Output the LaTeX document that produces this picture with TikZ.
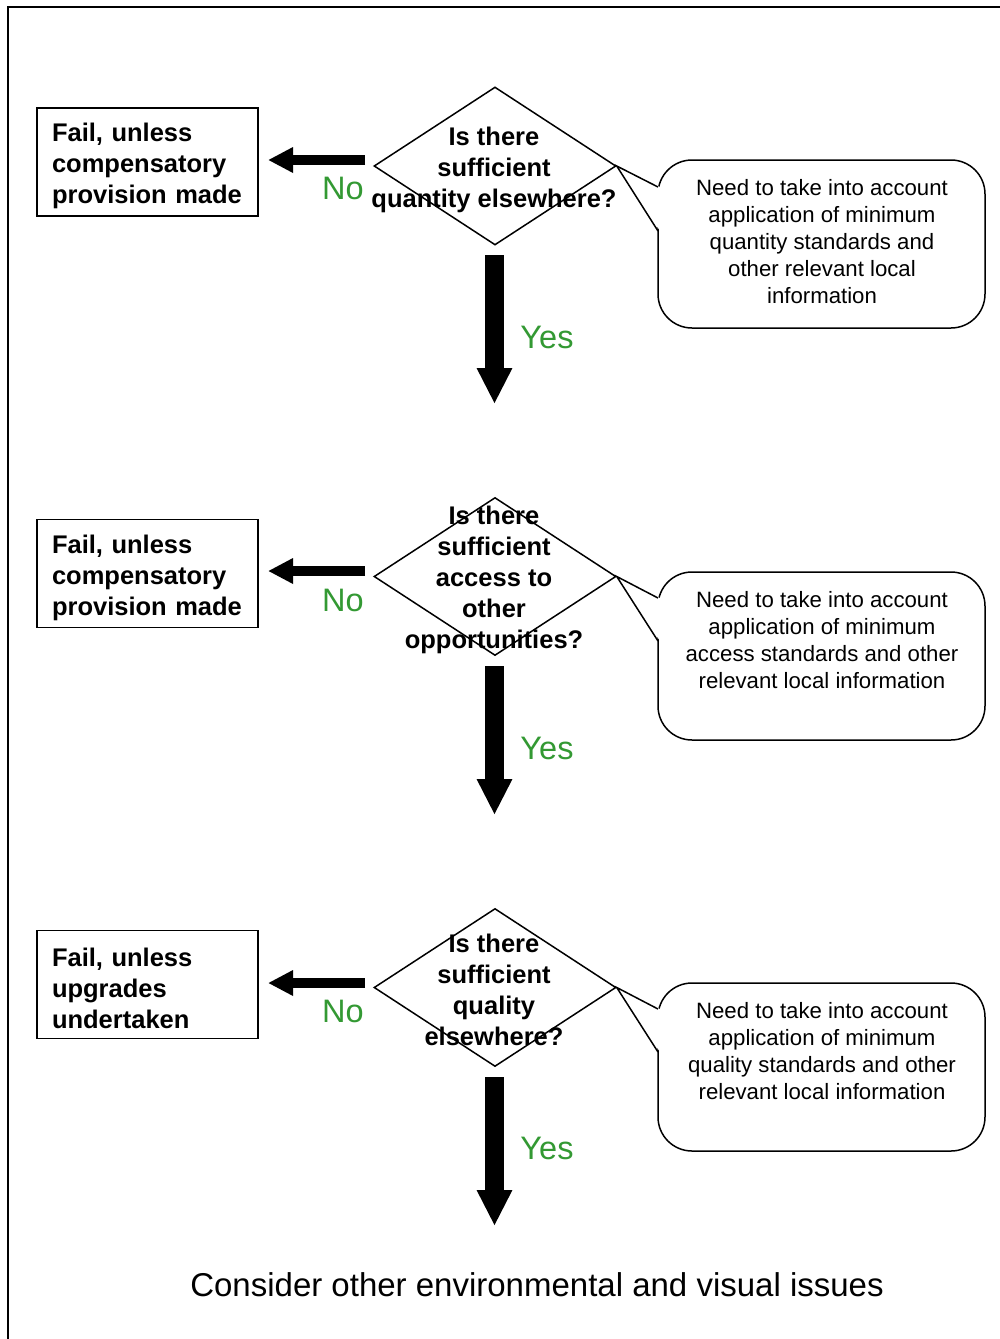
\documentclass[tikz,border=0pt]{standalone}
\usepackage{fontspec}
\setmainfont{Liberation Sans}
\usetikzlibrary{shapes.geometric,arrows.meta,calc}
\definecolor{yesgreen}{RGB}{51,153,51}
\begin{document}
\begin{tikzpicture}[x=1pt,y=-1pt,
  failbox/.style={draw,line width=1.5pt,rectangle,minimum width=221pt,minimum height=108pt,inner sep=0pt},
  failtext/.style={inner sep=0pt,text width=191pt,align=left,font=\bfseries\fontsize{25.5}{31}\selectfont},
  decide/.style={draw,line width=1.5pt,diamond,minimum width=242pt,minimum height=158pt,inner sep=0pt},
  qtext/.style={align=center,font=\bfseries\fontsize{25.5}{31}\selectfont,inner sep=0pt},
  callbody/.style={draw,line width=1.5pt,rectangle,rounded corners=34pt,minimum width=327pt,minimum height=168pt},
  calltext/.style={align=center,anchor=north,inner sep=0pt,font=\fontsize{22.2}{27}\selectfont},
  noarrow/.style={line width=10pt,-{Triangle[width=24pt,length=25pt]}},
  yesarrow/.style={line width=19pt,-{Triangle[width=33pt,length=36pt]}},
  lbl/.style={text=yesgreen,font=\fontsize{32.5}{36}\selectfont,inner sep=0pt},
]
\useasboundingbox (0,0) rectangle (1000,1339);
\fill[white] (0,0) rectangle (1000,1339);
\draw[line width=2pt] (8,1339) -- (8,7) -- (1000,7);

% ---------- section 1
\node[failbox] (b1) at (147.5,162) {};
\node[failtext] (bt1) at (147.5,166) {Fail, unless\\compensatory\\provision made};
\node[decide] (d1) at (495,166) {};
\node[qtext] (q1) at (494,170) {Is there\\sufficient\\quantity elsewhere?};
\coordinate (n1s) at (365,160);
\coordinate (n1e) at (268,160);
\draw[noarrow] (n1s) -- (n1e);
\node[lbl] (no1) at (343,188) {No};
\coordinate (y1s) at (494.5,255);
\coordinate (y1e) at (494.5,404);
\draw[yesarrow] (y1s) -- (y1e);
\node[lbl] (yes1) at (547,337) {Yes};
\node[callbody] (c1) at (821.5,244) {};
\fill[white] (660,231) -- (d1.east) -- (660,187) -- cycle;
\draw[line width=1.5pt,line join=miter] (658,231) -- (d1.east) -- (658,187);
\node[calltext] (t1) at (822,179) {Need to take into account\\application of minimum\\quantity standards and\\other relevant local\\information};

% ---------- section 2
\node[failbox] (b2) at (147.5,573.5) {};
\node[failtext] (bt2) at (147.5,577.5) {Fail, unless\\compensatory\\provision made};
\node[decide] (d2) at (495,576.5) {};
\node[qtext] (q2) at (494,580) {Is there\\sufficient\\access to\\other\\opportunities?};
\coordinate (n2s) at (365,571);
\coordinate (n2e) at (268,571);
\draw[noarrow] (n2s) -- (n2e);
\node[lbl] (no2) at (343,600) {No};
\coordinate (y2s) at (494.5,666);
\coordinate (y2e) at (494.5,815);
\draw[yesarrow] (y2s) -- (y2e);
\node[lbl] (yes2) at (547,748) {Yes};
\node[callbody] (c2) at (821.5,656) {};
\fill[white] (660,641) -- (d2.east) -- (660,598) -- cycle;
\draw[line width=1.5pt,line join=miter] (658,641) -- (d2.east) -- (658,598);
\node[calltext] (t2) at (822,591) {Need to take into account\\application of minimum\\access standards and other\\relevant local information};

% ---------- section 3
\node[failbox] (b3) at (147.5,984.5) {};
\node[failtext] (bt3) at (147.5,988.5) {Fail, unless\\upgrades\\undertaken};
\node[decide] (d3) at (495,987.5) {};
\node[qtext] (q3) at (494,989.5) {Is there\\sufficient\\quality\\elsewhere?};
\coordinate (n3s) at (365,983);
\coordinate (n3e) at (268,983);
\draw[noarrow] (n3s) -- (n3e);
\node[lbl] (no3) at (343,1011) {No};
\coordinate (y3s) at (494.5,1077);
\coordinate (y3e) at (494.5,1226);
\draw[yesarrow] (y3s) -- (y3e);
\node[lbl] (yes3) at (547,1148) {Yes};
\node[callbody] (c3) at (821.5,1067) {};
\fill[white] (660,1052) -- (d3.east) -- (660,1009) -- cycle;
\draw[line width=1.5pt,line join=miter] (658,1052) -- (d3.east) -- (658,1009);
\node[calltext] (t3) at (822,1002) {Need to take into account\\application of minimum\\quality standards and other\\relevant local information};

% ---------- final
\node[inner sep=0pt,font=\fontsize{33}{38}\selectfont] (fin) at (537,1285) {Consider other environmental and visual issues};
\end{tikzpicture}
\end{document}
